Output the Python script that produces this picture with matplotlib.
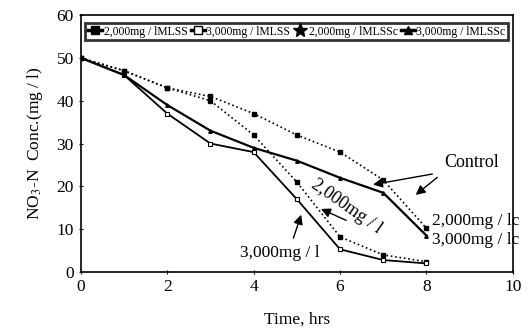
import numpy as np
import matplotlib
matplotlib.use("Agg")
import matplotlib.pyplot as plt
from matplotlib.lines import Line2D

plt.rcParams['font.family'] = ['Liberation Serif', 'DejaVu Serif']
plt.rcParams['mathtext.fontset'] = 'stix'

# NO3-N concentration over time (mg/l)
hours = [0, 1, 2, 3, 4, 5, 6, 7, 8]
mlss_2000 = [50, 47, 43, 40, 32, 21, 8.2, 4, 2.4]
mlss_3000 = [50, 46, 37, 30, 28, 17, 5.3, 2.8, 2.0]
mlss_2000c = [50, 47, 43, 41, 37, 32, 28, 21.5, 10.2]
mlss_3000c = [50, 46, 39, 33, 29, 26, 22, 18.5, 8.5]

legend_labels = ['2,000mg / lMLSS', '3,000mg / lMLSS', '2,000mg / lMLSSc', '3,000mg / lMLSSc']

fig = plt.figure(figsize=(5.32, 3.35), dpi=100)
ax = fig.add_axes([0.152, 0.188, 0.812, 0.767])

ax.plot(hours, mlss_2000, color='black', ls=':', lw=1.2, marker='s', ms=3,
        mfc='black', mec='black')
ax.plot(hours, mlss_3000, color='black', ls='-', lw=1.3, marker='s', ms=3,
        mfc='white', mec='black', mew=0.8)
ax.plot(hours, mlss_2000c, color='black', ls=':', lw=1.2, marker='s', ms=2.5,
        mfc='black', mec='black')
ax.plot(hours, mlss_3000c, color='black', ls='-', lw=1.6, marker='^', ms=2.5,
        mfc='black', mec='black')

ax.set_xlim(0, 10)
ax.set_ylim(0, 60)
ax.set_xticks(np.arange(0, 11, 2))
ax.set_yticks(np.arange(0, 61, 10))
ax.tick_params(labelsize=12.5, length=3, direction='inout')
for s in ax.spines.values():
    s.set_linewidth(1.2)

ax.set_xlabel('Time, hrs', fontsize=12.5, labelpad=12)
ax.set_ylabel('NO$_3$-N  Conc.(mg / l)', fontsize=12.5, labelpad=8)

# legend strip across the top
handles = [
    Line2D([], [], color='black', lw=2.5, marker='s', ms=6, mfc='black'),
    Line2D([], [], color='black', lw=2.5, marker='s', ms=6, mfc='white'),
    Line2D([], [], color='black', lw=0, marker='*', ms=10, mfc='black'),
    Line2D([], [], color='black', lw=2.5, marker='^', ms=6, mfc='black'),
]
leg = ax.legend(handles, legend_labels, ncol=4, loc='upper center',
                bbox_to_anchor=(0.5, 0.975), fontsize=8.4, frameon=True,
                fancybox=False, handlelength=1.2, handletextpad=0.1,
                columnspacing=0.3, borderpad=0.25, borderaxespad=0.1)
leg.get_frame().set_edgecolor('black')
leg.get_frame().set_linewidth(2.0)

arrow = dict(arrowstyle='-|>', color='black', lw=1.0, mutation_scale=14)

ax.text(9.05, 25.5, 'Control', fontsize=13, ha='center', va='center')
ax.annotate('', xy=(6.7, 20.3), xytext=(8.2, 23.0), arrowprops=arrow)
ax.annotate('', xy=(7.7, 17.6), xytext=(8.3, 22.5), arrowprops=arrow)

ax.text(6.15, 15.2, '2,000mg / l', fontsize=13, rotation=-35,
        ha='center', va='center')
ax.annotate('', xy=(5.5, 15.0), xytext=(6.2, 11.8), arrowprops=arrow)

ax.text(4.6, 4.4, '3,000mg / l', fontsize=12.5, ha='center', va='center')
ax.annotate('', xy=(5.12, 14.0), xytext=(4.9, 7.3), arrowprops=arrow)

ax.text(8.12, 12.0, '2,000mg / lc', fontsize=12.5, ha='left', va='center')
ax.text(8.12, 7.4, '3,000mg / lc', fontsize=12.5, ha='left', va='center')

fig.savefig('out.png', dpi=100)
